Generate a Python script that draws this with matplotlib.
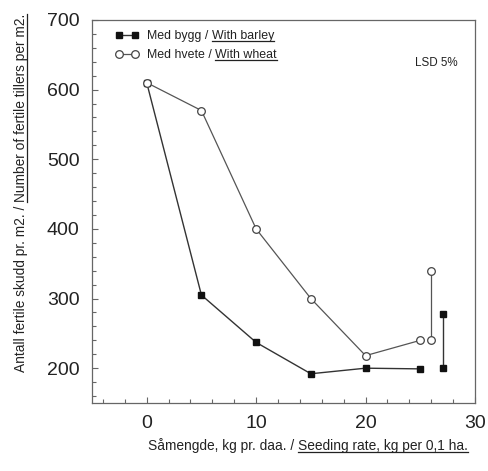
import matplotlib
matplotlib.use('Agg')
import matplotlib.pyplot as plt
from matplotlib.lines import Line2D
from matplotlib.transforms import IdentityTransform
from matplotlib.ticker import MultipleLocator

# seeding rate (kg per daa) and fertile tillers per m2
seed_rate = [0, 5, 10, 15, 20, 25]
tillers_barley = [610, 305, 237, 192, 200, 199]
tillers_wheat = [610, 570, 400, 300, 218, 240]

# LSD 5% bars: (x position, low, high) for wheat and barley
lsd_x = [26.0, 27.1]
lsd_low = [240, 200]
lsd_high = [340, 278]

plt.rcParams['font.family'] = ['Liberation Sans', 'DejaVu Sans']
TXT = '#222222'

W, H = 488, 471
fig = plt.figure(figsize=(W / 100, H / 100), dpi=100)
ax = fig.add_axes([92 / W, 1 - 403 / H, 383 / W, 383 / H])

barley_style = dict(color='#333333', lw=1.0, marker='s', ms=4.5, mfc='#111111', mec='#111111')
wheat_style = dict(color='#555555', lw=0.9, marker='o', ms=5.5, mfc='white', mec='#444444', mew=0.9)

ax.plot(seed_rate, tillers_barley, zorder=3, **barley_style)
ax.plot(seed_rate, tillers_wheat, zorder=3, **wheat_style)
ax.plot([lsd_x[0]] * 2, [lsd_low[0], lsd_high[0]], **wheat_style)
ax.plot([lsd_x[1]] * 2, [lsd_low[1], lsd_high[1]], **barley_style)

ax.set_xlim(-5, 30)
ax.set_ylim(150, 700)
ax.set_xticks([0, 10, 20, 30])
ax.set_yticks([200, 300, 400, 500, 600, 700])
ax.xaxis.set_minor_locator(MultipleLocator(2))
ax.yaxis.set_minor_locator(MultipleLocator(20))
ax.tick_params(which='both', direction='in', color='#666666', width=0.8,
               labelsize=14, labelcolor=TXT, top=False, right=False)
ax.tick_params(which='major', length=4)
ax.tick_params(which='minor', length=3)
ax.tick_params(axis='y', pad=9)
ax.tick_params(axis='x', pad=9)
for sp in ax.spines.values():
    sp.set_color('#666666')
    sp.set_linewidth(0.9)

ax.text(415, H - 66, 'LSD 5%', transform=IdentityTransform(), fontsize=8.4, color=TXT)

renderer = fig.canvas.get_renderer()


def underlined_text(x, y, parts, size, rotation=0):
    """Write text pieces one after another from the baseline point (x, y)
    in pixels, underlining the pieces flagged True."""
    pos = x if rotation == 0 else y
    for s, under in parts:
        if rotation == 0:
            t = fig.text(pos, y, s, transform=IdentityTransform(), fontsize=size,
                         color=TXT, ha='left', va='baseline')
        else:
            t = fig.text(x, pos, s, transform=IdentityTransform(), fontsize=size,
                         color=TXT, ha='left', va='baseline', rotation=90,
                         rotation_mode='anchor')
        bb = t.get_window_extent(renderer)
        if rotation == 0:
            if under:
                fig.add_artist(Line2D([bb.x0, bb.x1], [y - 2, y - 2], lw=0.9,
                                      color=TXT, transform=IdentityTransform()))
            pos = bb.x1
        else:
            if under:
                fig.add_artist(Line2D([x + 2, x + 2], [bb.y0, bb.y1], lw=0.9,
                                      color=TXT, transform=IdentityTransform()))
            pos = bb.y1


# legend
leg_rows = [
    (H - 35, barley_style, [('Med bygg / ', False), ('With barley', True)]),
    (H - 54, wheat_style, [('Med hvete / ', False), ('With wheat', True)]),
]
for ly, style, parts in leg_rows:
    fig.add_artist(Line2D([119, 135], [ly, ly], transform=IdentityTransform(), **style))
    underlined_text(147, ly - 4, parts, 8.9)

# axis titles
underlined_text(148, H - 450, [('Såmengde, kg pr. daa. / ', False),
                               ('Seeding rate, kg per 0,1 ha.', True)], 9.9)
underlined_text(25, H - 372, [('Antall fertile skudd pr. m2. / ', False),
                              ('Number of fertile tillers per m2.', True)], 9.9, rotation=90)

fig.savefig('out.png', dpi=100)
